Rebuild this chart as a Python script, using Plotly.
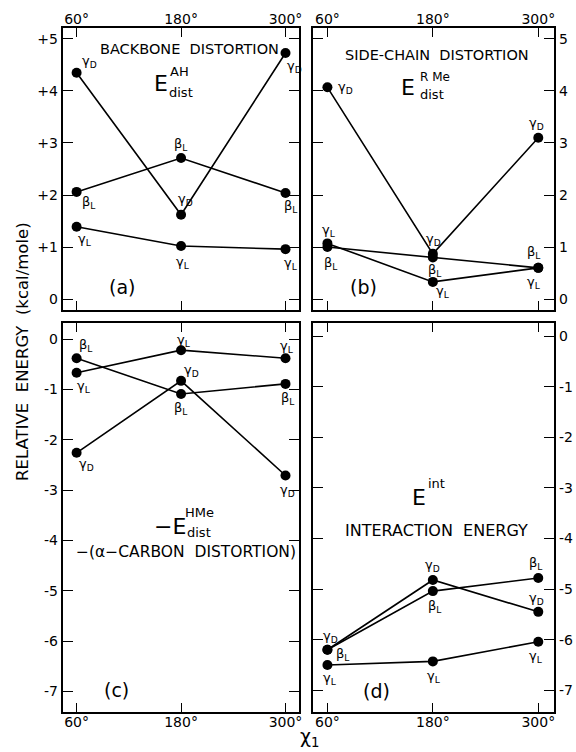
import plotly.graph_objects as go

W, H = 576, 752

# ---------------- data ----------------
X_DEG = [60, 180, 300]
X_TICKS = ["60°", "180°", "300°"]

a_gD = [4.35, 1.62, 4.73]
a_bL = [2.06, 2.71, 2.04]
a_gL = [1.39, 1.02, 0.96]

b_gD = [4.07, 0.87, 3.10]
b_gL = [1.07, 0.33, 0.60]
b_bL = [1.00, 0.80, 0.60]

c_bL = [-0.38, -1.09, -0.89]
c_gL = [-0.67, -0.22, -0.38]
c_gD = [-2.26, -0.83, -2.71]

d_gD = [-6.20, -4.82, -5.45]
d_bL = [-6.20, -5.04, -4.78]
d_gL = [-6.50, -6.43, -6.04]

TOP_TICKS = [0, 1, 2, 3, 4, 5]
TOP_TICK_LEFT = ["0", "+1", "+2", "+3", "+4", "+5"]
TOP_TICK_RIGHT = ["0", "1", "2", "3", "4", "5"]
BOT_TICKS = [0, -1, -2, -3, -4, -5, -6, -7]
BOT_TICK_TEXT = ["0", "-1", "-2", "-3", "-4", "-5", "-6", "-7"]

GD = "γ<sub>D</sub>"
GL = "γ<sub>L</sub>"
BL = "β<sub>L</sub>"

# series: (axis suffix, values, label, label offsets per point (xshift,yshift))
SERIES = [
    ("", a_gD, GD, [(13, 11), (4, 15), (9, -14)]),
    ("", a_bL, BL, [(12, -11), (0, 14), (5, -14)]),
    ("", a_gL, GL, [(8, -13), (2, -16), (5, -14)]),
    ("2", b_gD, GD, [(18, 0), (1, 14), (-2, 14)]),
    ("2", b_gL, GL, [(2, 13), (10, -10), (-4, -15)]),
    ("2", b_bL, BL, [(4, -16), (2, -13), (-4, 15)]),
    ("3", c_bL, BL, [(9, 13), (0, -15), (2, -15)]),
    ("3", c_gL, GL, [(7, -14), (3, 10), (1, 12)]),
    ("3", c_gD, GD, [(10, -12), (10, 10), (2, -15)]),
    ("4", d_gD, GD, [(3, 13), (0, 14), (-2, 13)]),
    ("4", d_bL, BL, [(16, -5), (2, -15), (-2, 14)]),
    ("4", d_gL, GL, [(3, -14), (1, -15), (-2, -15)]),
]

FONT = "DejaVu Sans"
BLACK = "black"


def px(x):
    return x / W


def py(y):
    return 1 - y / H


fig = go.Figure()

annotations = []
for ax, vals, lab, offs in SERIES:
    fig.add_trace(go.Scatter(
        x=X_DEG, y=vals, mode="lines+markers",
        line=dict(color=BLACK, width=1.6),
        marker=dict(color=BLACK, size=10),
        xaxis="x" + ax, yaxis="y" + ax, showlegend=False, hoverinfo="skip",
    ))
    for xv, yv, (dx, dy) in zip(X_DEG, vals, offs):
        annotations.append(dict(
            x=xv, y=yv, xref="x" + ax, yref="y" + ax, text=lab,
            showarrow=False, xshift=dx, yshift=dy,
            font=dict(family=FONT, size=13, color=BLACK),
        ))

common_x = dict(
    tickvals=X_DEG, ticktext=X_TICKS, ticks="inside", ticklen=9, tickwidth=1.3,
    tickcolor=BLACK, showline=True, linecolor=BLACK, linewidth=2, mirror="ticks",
    showgrid=False, zeroline=False, tickfont=dict(family=FONT, size=14, color=BLACK),
    fixedrange=True, ticklabelstandoff=-4,
)
common_y = dict(
    ticks="inside", ticklen=10, tickwidth=1.3, tickcolor=BLACK, showline=True,
    linecolor=BLACK, linewidth=2, mirror="ticks", showgrid=False, zeroline=False,
    tickfont=dict(family=FONT, size=14, color=BLACK), fixedrange=True,
)

XL = [px(63), px(301)]
XR = [px(315), px(557)]
YT = [py(310), py(28)]
YB = [py(712), py(323)]

fig.update_layout(
    width=W, height=H, margin=dict(l=0, r=0, t=0, b=0),
    paper_bgcolor="white", plot_bgcolor="white",
    xaxis=dict(common_x, domain=XL, range=[44, 316], side="top", anchor="y"),
    yaxis=dict(common_y, domain=YT, range=[-0.21, 5.21], tickvals=TOP_TICKS,
               ticktext=TOP_TICK_LEFT, side="left", anchor="x"),
    xaxis2=dict(common_x, domain=XR, range=[44, 318], side="top", anchor="y2"),
    yaxis2=dict(common_y, domain=YT, range=[-0.21, 5.21], tickvals=TOP_TICKS,
                ticktext=TOP_TICK_RIGHT, side="right", anchor="x2"),
    xaxis3=dict(common_x, domain=XL, range=[44, 316], side="bottom", anchor="y3"),
    yaxis3=dict(common_y, domain=YB, range=[-7.41, 0.32], tickvals=BOT_TICKS,
                ticktext=BOT_TICK_TEXT, side="left", anchor="x3"),
    xaxis4=dict(common_x, domain=XR, range=[44, 318], side="bottom", anchor="y4"),
    yaxis4=dict(common_y, domain=YB, range=[-7.43, 0.26], tickvals=BOT_TICKS,
                ticktext=BOT_TICK_TEXT, side="right", anchor="x4"),
)


def txt(x, y, s, size=13, angle=0, xanchor="center"):
    annotations.append(dict(
        x=px(x), y=py(y), xref="paper", yref="paper", text=s, showarrow=False,
        textangle=angle, xanchor=xanchor, yanchor="middle",
        font=dict(family=FONT, size=size, color=BLACK),
    ))


# panel (a)
txt(190, 49, "BACKBONE  DISTORTION", 14.5)
txt(162, 84, "E", 22)
txt(180, 72, "AH", 13)
txt(182, 92, "dist", 13)
txt(123, 287, "(a)", 19)
# panel (b)
txt(439, 55, "SIDE-CHAIN  DISTORTION", 14.5)
txt(410, 87, "E", 22)
txt(437, 77, "R Me", 12)
txt(434, 94, "dist", 13)
txt(365, 287, "(b)", 19)
# panel (c)
txt(171, 526, "−E", 22)
txt(201, 512, "HMe", 13)
txt(200, 532, "dist", 13)
txt(187, 552, "−(α−CARBON  DISTORTION)", 15.5)
txt(117, 690, "(c)", 19)
# panel (d)
txt(421, 497, "E", 22)
txt(439, 484, "int", 13)
txt(439, 530, "INTERACTION  ENERGY", 16)
txt(378, 691, "(d)", 19)
# axis titles
txt(22, 352, "RELATIVE  ENERGY  (kcal/mole)", 16.5, angle=-90)
txt(311, 737, "χ<sub>1</sub>", 19)

fig.update_layout(annotations=annotations)
fig.write_html("out.html")
